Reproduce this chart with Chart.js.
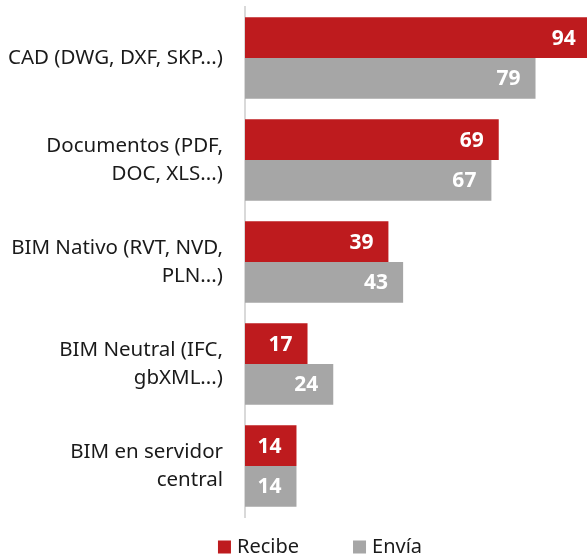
<!DOCTYPE html>
<html>
<head>
<meta charset="utf-8">
<script src="https://cdn.jsdelivr.net/npm/chart.js@4"></script>
<style>
  html, body { margin: 0; padding: 0; background: #fff; }
  #wrap { width: 587px; height: 558px; }
</style>
</head>
<body>
<div id="wrap"><canvas id="chart"></canvas></div>
<script>
const categories = [
  ['CAD (DWG, DXF, SKP...)'],
  ['Documentos (PDF,', 'DOC, XLS...)'],
  ['BIM Nativo (RVT, NVD,', 'PLN...)'],
  ['BIM Neutral (IFC,', 'gbXML...)'],
  ['BIM en servidor', 'central']
];
const recibe = [94, 69, 39, 17, 14];
const envia = [79, 67, 43, 24, 14];

const FONT = '"Noto Sans", sans-serif';
const TEXT = '#1a1a1a';

// white value labels at the end of each bar
const valueLabels = {
  id: 'valueLabels',
  afterDatasetsDraw(chart) {
    const ctx = chart.ctx;
    ctx.save();
    ctx.font = 'bold 21px ' + FONT;
    ctx.fillStyle = '#ffffff';
    ctx.textAlign = 'right';
    ctx.textBaseline = 'middle';
    chart.data.datasets.forEach((ds, i) => {
      chart.getDatasetMeta(i).data.forEach((bar, j) => {
        const x = Math.min(bar.x, chart.chartArea.right + 4);
        ctx.fillText(ds.data[j], x - 15, bar.y + 1);
      });
    });
    ctx.restore();
  }
};

// simple legend under the plot, square markers
const bottomLegend = {
  id: 'bottomLegend',
  afterDraw(chart) {
    const ctx = chart.ctx;
    const box = 13, gapText = 6, gapItem = 54, centerX = 320, cy = 547;
    ctx.save();
    ctx.font = '20px ' + FONT;
    ctx.textBaseline = 'middle';
    const items = chart.data.datasets.map(ds => ({
      text: ds.label, color: ds.backgroundColor, w: ctx.measureText(ds.label).width
    }));
    let total = 0;
    items.forEach((it, i) => { total += box + gapText + it.w + (i ? gapItem : 0); });
    let x = centerX - total / 2;
    items.forEach(it => {
      ctx.fillStyle = it.color;
      ctx.fillRect(x, cy - box / 2, box, box);
      ctx.fillStyle = TEXT;
      ctx.fillText(it.text, x + box + gapText, cy);
      x += box + gapText + it.w + gapItem;
    });
    ctx.restore();
  }
};

new Chart(document.getElementById('chart'), {
  type: 'bar',
  data: {
    labels: categories,
    datasets: [
      { label: 'Recibe', data: recibe, backgroundColor: '#be1b1e' },
      { label: 'Envía', data: envia, backgroundColor: '#a6a6a6' }
    ]
  },
  options: {
    indexAxis: 'y',
    responsive: true,
    maintainAspectRatio: false,
    animation: false,
    datasets: { bar: { categoryPercentage: 0.8, barPercentage: 1 } },
    layout: { padding: { top: 7, right: 0, bottom: 41, left: 0 } },
    scales: {
      x: { display: false, min: 0, max: 93 },
      y: {
        grid: { display: false, drawTicks: false },
        border: { display: true, color: '#d9d9d9', width: 2 },
        afterFit: (scale) => {
          scale.width = 245;
          scale.paddingTop = 0;
          scale.paddingBottom = 0;
        },
        ticks: {
          color: TEXT,
          padding: 22,
          font: { family: FONT, size: 20.5, lineHeight: 1.35 }
        }
      }
    },
    plugins: {
      legend: { display: false },
      tooltip: { enabled: false }
    }
  },
  plugins: [valueLabels, bottomLegend]
});
</script>
</body>
</html>
